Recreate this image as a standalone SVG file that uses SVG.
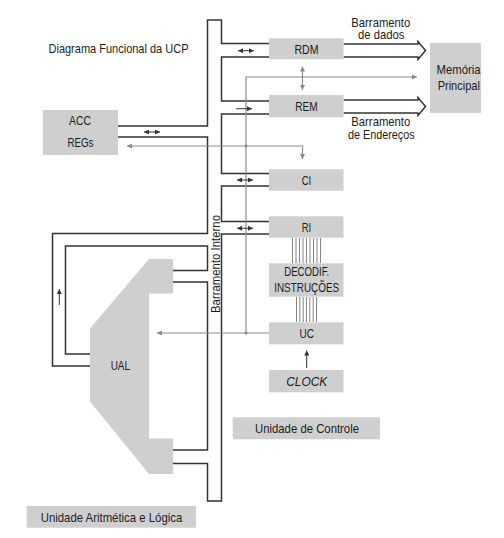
<svg xmlns="http://www.w3.org/2000/svg" width="504" height="538" viewBox="0 0 504 538">
<style>
.box{fill:#cfcfcf}
.bl{fill:none;stroke:#333;stroke-width:1.5}
.gl{fill:none;stroke:#8a8a8a;stroke-width:1.2}
.ar{fill:none;stroke:#333;stroke-width:1}
.dl{stroke:#666;stroke-width:0.8}
text{font-family:"Liberation Sans",Arial,sans-serif;font-size:13.5px;fill:#1c1c1c;text-anchor:middle}
text.sm{font-size:12.4px}
</style>
<defs>
<marker id="ab" viewBox="0 0 6 6" refX="6" refY="3" markerWidth="5" markerHeight="5" markerUnits="userSpaceOnUse" orient="auto-start-reverse"><path d="M0,0 L6,3 L0,6 z" fill="#333"/></marker>
<marker id="ag" viewBox="0 0 6 6" refX="6" refY="3" markerWidth="5" markerHeight="5" markerUnits="userSpaceOnUse" orient="auto-start-reverse"><path d="M0,0 L6,3 L0,6 z" fill="#8a8a8a"/></marker>
</defs>
<rect width="504" height="538" fill="#fff"/>
<text x="118.5" y="53.3" textLength="140" lengthAdjust="spacingAndGlyphs">Diagrama Funcional da UCP</text>

<g id="connectors">
<path class="bl" d="M269,43.5 H221.5 V20 H207.5 V126 H118"/>
<path class="bl" d="M118,137 H207.5 V233.5 H52.5 V366 H90"/>
<path class="bl" d="M90,354 H65.5 V246 H207.5 V270.5 H173"/>
<path class="bl" d="M173,282 H207.5 V450 H173"/>
<path class="bl" d="M173,463.5 H207.5 V501 H221.5 V234 H269"/>
<path class="bl" d="M269,221.5 H221.5 V186 H269"/>
<path class="bl" d="M269,173.5 H221.5 V114 H269"/>
<path class="bl" d="M269,101 H221.5 V57 H269"/>
<path class="bl" d="M343.5,44 H418 V41.5 L425.5,50.5 L418,59.5 V57 H343.5"/>
<path class="bl" d="M343.5,100 H418 V97.5 L425.5,106.5 L418,115.5 V113 H343.5"/>
<path class="gl" d="M417,77 H246 V333" marker-start="url(#ag)"/>
<path class="gl" d="M127,146 H302.5 V159" marker-start="url(#ag)" marker-end="url(#ag)"/>
<path class="gl" d="M269,333 H157" marker-end="url(#ag)"/>
<path class="gl" d="M302.5,66.5 V90" marker-start="url(#ag)" marker-end="url(#ag)"/>
<circle cx="246" cy="146" r="1.6" fill="#8a8a8a"/>
<circle cx="246" cy="333" r="1.6" fill="#8a8a8a"/>
<path class="ar" d="M144,132 H160" marker-start="url(#ab)" marker-end="url(#ab)"/>
<path class="ar" d="M238,50.7 H254" marker-start="url(#ab)" marker-end="url(#ab)"/>
<path class="ar" d="M236,108.7 H252" marker-end="url(#ab)"/>
<path class="ar" d="M237,180 H253" marker-start="url(#ab)" marker-end="url(#ab)"/>
<path class="ar" d="M237,228.3 H253" marker-start="url(#ab)" marker-end="url(#ab)"/>
<path class="ar" d="M59.3,305 V289" marker-end="url(#ab)"/>
<path class="ar" d="M306.7,368 V350.5" stroke="#555" marker-end="url(#ab)"/>
<g class="dl">
<line x1="292.5" y1="238" x2="292.5" y2="263"/><line x1="296" y1="238" x2="296" y2="263"/><line x1="299.5" y1="238" x2="299.5" y2="263"/><line x1="303" y1="238" x2="303" y2="263"/><line x1="306.5" y1="238" x2="306.5" y2="263"/><line x1="310" y1="238" x2="310" y2="263"/><line x1="313.5" y1="238" x2="313.5" y2="263"/><line x1="317" y1="238" x2="317" y2="263"/><line x1="320.5" y1="238" x2="320.5" y2="263"/>
<line x1="296.5" y1="297" x2="296.5" y2="322"/><line x1="299.8" y1="297" x2="299.8" y2="322"/><line x1="303.2" y1="297" x2="303.2" y2="322"/><line x1="306.5" y1="297" x2="306.5" y2="322"/><line x1="309.8" y1="297" x2="309.8" y2="322"/><line x1="313.2" y1="297" x2="313.2" y2="322"/><line x1="316.5" y1="297" x2="316.5" y2="322"/>
</g>
<text transform="translate(219.5,264) rotate(-90)" textLength="98" lengthAdjust="spacingAndGlyphs">Barramento Interno</text>
</g>

<g id="acc"><rect class="box" x="43" y="110" width="75" height="45"/>
<text x="80" y="125" textLength="22" lengthAdjust="spacingAndGlyphs">ACC</text>
<text x="80.5" y="147.3" textLength="26" lengthAdjust="spacingAndGlyphs">REGs</text></g>

<g id="rdm"><rect class="box" x="269" y="38.3" width="74.5" height="21"/>
<text x="306.5" y="53.5" textLength="24" lengthAdjust="spacingAndGlyphs">RDM</text></g>

<g id="rem"><rect class="box" x="269" y="95" width="74.5" height="22.3"/>
<text x="306.5" y="110.9" textLength="22.5" lengthAdjust="spacingAndGlyphs">REM</text></g>

<g id="bus-dados-label"><text class="sm" x="380.8" y="26.7" textLength="59" lengthAdjust="spacingAndGlyphs">Barramento</text>
<text class="sm" x="381.2" y="39.3" textLength="46.3" lengthAdjust="spacingAndGlyphs">de dados</text></g>

<g id="bus-end-label"><text class="sm" x="380.8" y="126" textLength="59" lengthAdjust="spacingAndGlyphs">Barramento</text>
<text class="sm" x="381.3" y="139" textLength="66.7" lengthAdjust="spacingAndGlyphs">de Endereços</text></g>

<g id="memoria"><rect class="box" x="430" y="43" width="51" height="70"/>
<text x="458.5" y="74" textLength="44" lengthAdjust="spacingAndGlyphs">Memória</text>
<text x="458.8" y="90" textLength="42.3" lengthAdjust="spacingAndGlyphs">Principal</text></g>

<g id="ci"><rect class="box" x="269" y="169.3" width="74.5" height="21.4"/>
<text x="306.5" y="185" textLength="9.5" lengthAdjust="spacingAndGlyphs">CI</text></g>

<g id="ri"><rect class="box" x="269" y="216.3" width="74.5" height="21.4"/>
<text x="306.5" y="231.7" textLength="9.5" lengthAdjust="spacingAndGlyphs">RI</text></g>

<g id="decodif"><rect class="box" x="269" y="263.3" width="74.5" height="33.4"/>
<text x="306.7" y="275.5" textLength="45" lengthAdjust="spacingAndGlyphs">DECODIF.</text>
<text x="306.7" y="291.5" textLength="65" lengthAdjust="spacingAndGlyphs">INSTRUÇÕES</text></g>

<g id="uc"><rect class="box" x="269" y="322.3" width="74.5" height="22"/>
<text x="306.7" y="337.5" textLength="14.5" lengthAdjust="spacingAndGlyphs">UC</text></g>

<g id="clock"><rect class="box" x="269" y="370" width="74.5" height="22.3"/>
<text x="306.7" y="385.5" font-style="italic" textLength="41" lengthAdjust="spacingAndGlyphs">CLOCK</text></g>

<g id="uc-label"><rect class="box" x="232.7" y="417.3" width="147.3" height="22"/>
<text x="307" y="432.5" textLength="104" lengthAdjust="spacingAndGlyphs">Unidade de Controle</text></g>

<g id="ual"><path class="box" d="M149,259 H173 V293.5 H149 V438.5 H173 V474 H149 L90,401.5 V328.5 Z"/>
<text x="120.3" y="370" textLength="19.3" lengthAdjust="spacingAndGlyphs">UAL</text></g>

<g id="ual-label"><rect class="box" x="26.7" y="506" width="169.3" height="21.7"/>
<text x="111.5" y="521.9" textLength="141.6" lengthAdjust="spacingAndGlyphs">Unidade Aritmética e Lógica</text></g>
</svg>
